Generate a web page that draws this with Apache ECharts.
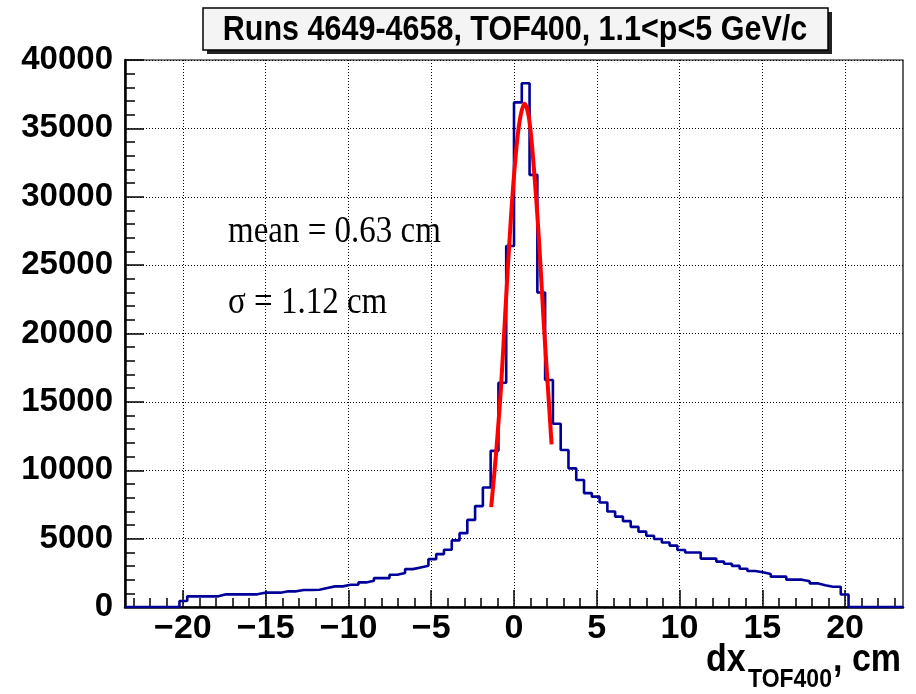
<!DOCTYPE html>
<html><head><meta charset="utf-8">
<script src="https://cdn.jsdelivr.net/npm/echarts@6/dist/echarts.min.js"></script>
<style>html,body{margin:0;padding:0;background:#fff;}#c{width:916px;height:694px;}</style>
</head><body><div id="c"></div>
<script>
// Histogram binning (100 bins over the axis range)
const binLow = -23.5;
const binWidth = 0.47;
const counts = [0,0,0,0,0,0,0,
  440, 780,780,780,780, 926,926,926,926,926, 1048,1048,1048, 1146,1146, 1243,1243, 1264, 1385,
  1507,1507, 1628,1628, 1798, 1920, 2114,2114, 2357, 2479, 2770, 2892, 3013, 3500, 3870, 4190,
  4870, 5400, 6370, 7380, 8740, 11420, 16400, 26400, 36900, 38300, 31600, 23000, 16600, 13400,
  11480, 10140, 9290, 8330, 8070, 7640, 6980, 6610, 6280, 5860, 5510, 5210, 4970, 4720, 4490,
  4170, 3990, 3990, 3538, 3538, 3320, 3160, 3010, 2800, 2630, 2540, 2420, 2220, 2220, 2000, 2000,
  1879, 1730, 1586, 1480, 1480, 915,
  0,0,0,0,0,0,0];

// Red fit curve
const fitX = [-1.38, -1.1, -0.8, -0.5, -0.2, 0.1, 0.35, 0.63, 0.9, 1.2, 1.5, 1.8, 2.05, 2.27];
const fitY = [7300, 11000, 15800, 22100, 28200, 33000, 35600, 36800, 35800, 32100, 27000, 20700, 16000, 11900];

// Axis ticks / labels
const xMajorTicks = [-20, -15, -10, -5, 0, 5, 10, 15, 20];
const yMin = 0, yMax = 40000, yStep = 5000;
const xMin = -23.5, xMax = 23.5;

const titleText = 'Runs 4649-4658, TOF400, 1.1<p<5 GeV/c';
const meanText = 'mean = 0.63 cm';
const sigmaText = 'σ = 1.12 cm';

const xMinorTicks = [];
for (let v = -23; v <= 23; v++) xMinorTicks.push(v);

const histPts = counts.map((c, i) => [+(binLow + i * binWidth).toFixed(4), c]);
histPts.push([+(binLow + counts.length * binWidth).toFixed(4), 0]);
const fitPts = fitX.map((x, i) => [x, fitY[i]]);

const chart = echarts.init(document.getElementById('c'));
const sans = 'Liberation Sans, Arial, Helvetica, sans-serif';
const serif = 'Liberation Serif, Times New Roman, serif';
const fmtX = v => (v < 0 ? '\u2212' + (-v) : String(v));
const fmtY = v => String(v);

chart.setOption({
  animation: false,
  backgroundColor: '#fff',
  grid: {left: 125, right: 13, top: 60, bottom: 87, show: true, borderColor: '#000', borderWidth: 1.2},
  xAxis: [{
    type: 'value', min: xMin, max: xMax,
    axisLine: {show: true, lineStyle: {color: '#000', width: 2.5}},
    axisTick: {show: true, inside: true, length: 17, customValues: xMajorTicks, lineStyle: {color: '#000', width: 1.5}},
    axisLabel: {customValues: xMajorTicks, formatter: fmtX, color: '#000', fontFamily: sans, fontWeight: 'bold', fontSize: 34, margin: 5},
    splitLine: {show: true, lineStyle: {color: '#000', type: [1, 2]}}
  }, {
    type: 'value', min: xMin, max: xMax, position: 'bottom',
    axisLine: {show: false},
    axisTick: {show: true, inside: true, length: 9, customValues: xMinorTicks, lineStyle: {color: '#000', width: 1.5}},
    axisLabel: {show: false}, splitLine: {show: false}
  }, {
    // helper axis: its zero sits at the left edge, so the y axis lines up there
    type: 'value', show: false, min: 0, max: 1
  }],
  yAxis: [{
    type: 'value', min: yMin, max: yMax, interval: yStep,
    axisLine: {show: true, onZero: true, onZeroAxisIndex: 2, lineStyle: {color: '#000', width: 2.5}},
    axisTick: {show: true, inside: true, length: 19, lineStyle: {color: '#000', width: 1.5}},
    minorTick: {show: true, splitNumber: 5, length: 10, lineStyle: {color: '#000', width: 1.5}},
    axisLabel: {formatter: fmtY, color: '#000', fontFamily: sans, fontWeight: 'bold', fontSize: 33, margin: 12},
    splitLine: {show: true, lineStyle: {color: '#000', type: [1, 2]}}
  }],
  series: [
    {type: 'line', data: histPts, step: 'end', symbol: 'none', lineStyle: {color: '#000099', width: 2.6}},
    {type: 'line', data: fitPts, smooth: 0.35, symbol: 'none', lineStyle: {color: '#ff0000', width: 4}}
  ],
  graphic: [
    {type: 'rect', shape: {x: 207, y: 12, width: 625, height: 42}, style: {fill: '#222'}, z: 10},
    {type: 'rect', shape: {x: 203, y: 8, width: 625, height: 42}, style: {fill: '#f4f4f4', stroke: '#000', lineWidth: 1.5}, z: 11},
    {type: 'text', x: 515, y: 30, scaleY: 1.14, z: 12,
      style: {text: titleText, font: 'bold 30.5px ' + sans, fill: '#000', textAlign: 'center', textVerticalAlign: 'middle'}},
    {type: 'text', x: 228, y: 232, scaleY: 1.15, z: 12,
      style: {text: meanText, font: '33px ' + serif, fill: '#000', textAlign: 'left', textVerticalAlign: 'middle'}},
    {type: 'text', x: 228, y: 303, scaleY: 1.15, z: 12,
      style: {text: sigmaText, font: '33px ' + serif, fill: '#000', textAlign: 'left', textVerticalAlign: 'middle'}},
    {type: 'text', x: 706, y: 660, scaleY: 1.12, z: 12,
      style: {text: 'dx', font: 'bold 34px ' + sans, fill: '#000', textAlign: 'left', textVerticalAlign: 'middle'}},
    {type: 'text', x: 748, y: 680, scaleY: 1.15, z: 12,
      style: {text: 'TOF400', font: 'bold 23px ' + sans, fill: '#000', textAlign: 'left', textVerticalAlign: 'middle'}},
    {type: 'text', x: 833, y: 660, scaleY: 1.12, z: 12,
      style: {text: ', cm', font: 'bold 34px ' + sans, fill: '#000', textAlign: 'left', textVerticalAlign: 'middle'}}
  ]
});
</script>
</body></html>
